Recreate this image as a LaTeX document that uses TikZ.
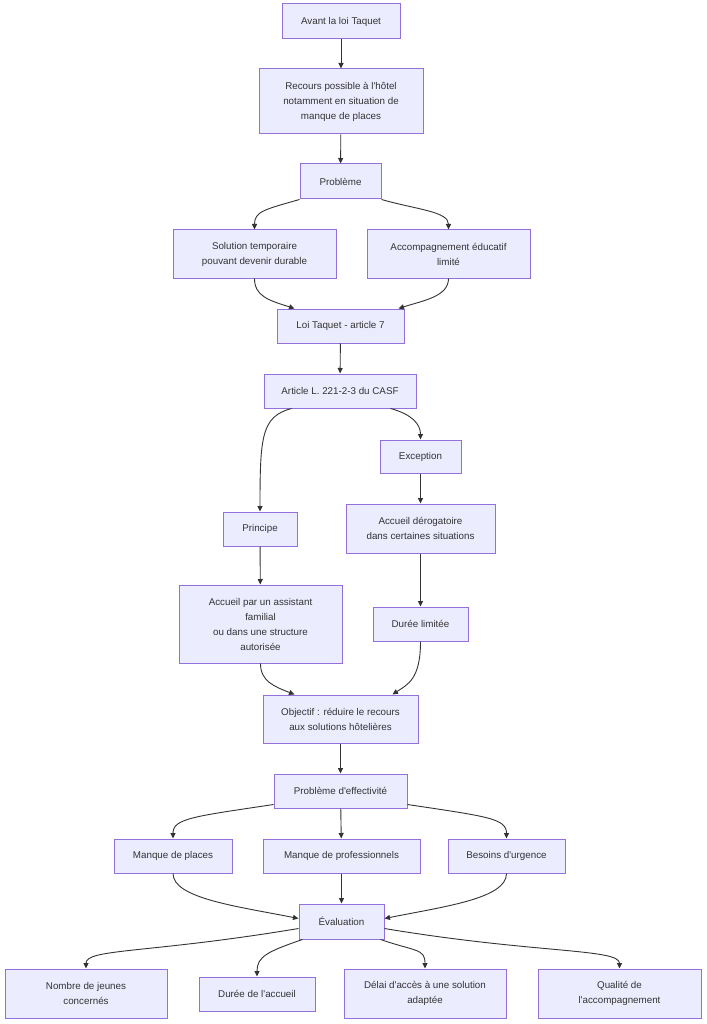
\documentclass[tikz,border=0pt]{standalone}
\usepackage{fontspec}
\setmainfont{Liberation Sans}
\usetikzlibrary{arrows.meta,calc}
\definecolor{boxfill}{HTML}{ECECFF}
\definecolor{boxline}{HTML}{9370DB}
\definecolor{ink}{HTML}{333333}
\newcommand\apo{\textquotesingle}
\begin{document}
\begin{tikzpicture}[x=1pt,y=-1pt,
  box/.style={draw=boxline,fill=boxfill,line width=1pt,inner sep=0pt,align=center,
    text=ink,font=\fontsize{9.8}{15}\selectfont},
  arr/.style={draw=ink,line width=0.9pt,-{Triangle[length=5.5pt,width=5pt]}}]
\fill[white] (0,0) rectangle (706,1024);
\useasboundingbox (0,0) rectangle (706,1024);

\node[box,minimum width=118,minimum height=35] (A) at (341,21.5) {Avant la loi Taquet};
\node[box,minimum width=164,minimum height=65] (B) at (341,101.5) {Recours possible à l\apo hôtel\\notamment en situation de\\manque de places};
\node[box,minimum width=81,minimum height=35] (C) at (340.5,181.5) {Problème};
\node[box,minimum width=163,minimum height=48] (D) at (254.5,254) {Solution temporaire\\pouvant devenir durable};
\node[box,minimum width=163,minimum height=48] (E) at (448.5,254) {Accompagnement éducatif\\limité};
\node[box,minimum width=127,minimum height=34] (F) at (340.5,326) {Loi Taquet - article 7};
\node[box,minimum width=152,minimum height=34] (G) at (340,391) {Article L. 221-2-3 du CASF};
\node[box,minimum width=81,minimum height=33] (H) at (420.5,456.5) {Exception};
\node[box,minimum width=74,minimum height=34] (I) at (260,529) {Principe};
\node[box,minimum width=149,minimum height=49] (J) at (420.5,528.5) {Accueil dérogatoire\\dans certaines situations};
\node[box,minimum width=163,minimum height=78] (K) at (260.5,624) {Accueil par un assistant\\familial\\ou dans une structure\\autorisée};
\node[box,minimum width=95,minimum height=34] (L) at (420.5,624) {Durée limitée};
\node[box,minimum width=155,minimum height=48] (M) at (340.5,719) {Objectif : réduire le recours\\aux solutions hôtelières};
\node[box,minimum width=133,minimum height=34] (N) at (340.5,791) {Problème d\apo effectivité};
\node[box,minimum width=118,minimum height=34] (O) at (173,856) {Manque de places};
\node[box,minimum width=157,minimum height=34] (P) at (341.5,856) {Manque de professionnels};
\node[box,minimum width=117,minimum height=34] (Q) at (506.5,856) {Besoins d\apo urgence};
\node[box,minimum width=85,minimum height=35] (R) at (341.5,921.5) {Évaluation};
\node[box,minimum width=162,minimum height=49] (S) at (86,993.5) {Nombre de jeunes\\concernés};
\node[box,minimum width=116,minimum height=34] (T) at (257,994) {Durée de l\apo accueil};
\node[box,minimum width=162,minimum height=49] (U) at (425,993.5) {Délai d\apo accès à une solution\\adaptée};
\node[box,minimum width=163,minimum height=49] (V) at (619.5,993.5) {Qualité de\\l\apo accompagnement};

\draw[arr] (A) -- (B);
\draw[arr] (B) -- (C);
\draw[arr] (C.south west) .. controls +(-35,10) and +(0,-18) .. (D.north);
\draw[arr] (C.south east) .. controls +(35,10) and +(0,-18) .. (E.north);
\draw[arr] (D.south) .. controls +(0,18) and +(-25,-8) .. ($(F.north west)+(18,0)$);
\draw[arr] (E.south) .. controls +(0,18) and +(25,-8) .. ($(F.north east)+(-6,0)$);
\draw[arr] (F) -- (G);
\draw[arr] ($(G.south west)+(28,0)$) .. controls +(-30,8) and +(0,-75) .. (I.north);
\draw[arr] ($(G.south east)+(-26,0)$) .. controls +(22,6) and +(0,-15) .. (H.north);
\draw[arr] (H) -- (J);
\draw[arr] (I) -- (K);
\draw[arr] (J) -- (L);
\draw[arr] (K.south) .. controls +(0,18) and +(-20,-8) .. ($(M.north west)+(32,0)$);
\draw[arr] (L.south) .. controls +(0,38) and +(15,-10) .. ($(M.north east)+(-26,0)$);
\draw[arr] (M) -- (N);
\draw[arr] ($(N.south west)+(0,-4)$) .. controls +(-80,12) and +(0,-20) .. (O.north);
\draw[arr] (N) -- (P);
\draw[arr] ($(N.south east)+(0,-4)$) .. controls +(80,12) and +(0,-20) .. (Q.north);
\draw[arr] (O.south) .. controls +(0,25) and +(-60,-12) .. ($(R.west)+(0,-3)$);
\draw[arr] (P) -- (R);
\draw[arr] (Q.south) .. controls +(0,25) and +(60,-12) .. ($(R.east)+(0,-3)$);
\draw[arr] ($(R.west)+(0,7)$) .. controls +(-150,25) and +(0,-20) .. (S.north);
\draw[arr] ($(R.south west)+(4,0)$) .. controls +(-35,12) and +(0,-20) .. (T.north);
\draw[arr] ($(R.south east)+(-4,0)$) .. controls +(35,12) and +(0,-20) .. (U.north);
\draw[arr] ($(R.east)+(0,7)$) .. controls +(150,25) and +(0,-20) .. (V.north);
\end{tikzpicture}
\end{document}
